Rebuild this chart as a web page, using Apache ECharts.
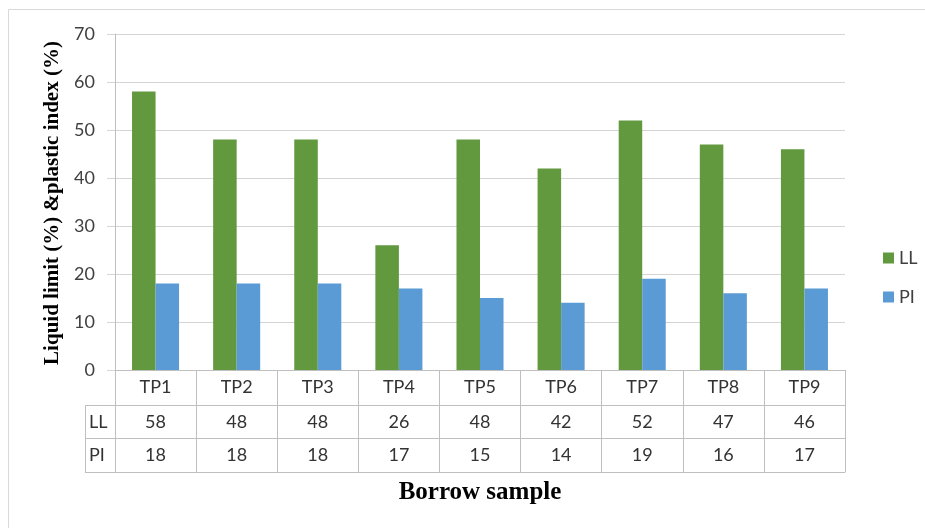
<!DOCTYPE html>
<html>
<head>
<meta charset="utf-8">
<script src="https://cdn.jsdelivr.net/npm/echarts@6/dist/echarts.min.js"></script>
<style>html,body{margin:0;padding:0;background:#fff;}#c{width:925px;height:528px;}</style>
</head>
<body>
<div id="c"></div>
<script>
const categories = ['TP1','TP2','TP3','TP4','TP5','TP6','TP7','TP8','TP9'];
const llValues = [58,48,48,26,48,42,52,47,46];
const piValues = [18,18,18,17,15,14,19,16,17];
const seriesNames = ['LL','PI'];
const yTicks = {min:0, max:70, interval:10};
const yTitle = 'Liquid limit (%) &plastic index (%)';
const xTitle = 'Borrow sample';

const GREEN = '#62993e', BLUE = '#5b9bd5', LINE = '#bfbfbf', GRID = '#d4d4d4';
const SANS = 'Lato, "Open Sans", sans-serif';
const SERIF = '"Liberation Serif", "DejaVu Serif", serif';

const chart = echarts.init(document.getElementById('c'));
const tableAxis = (offset, labels, showLabel) => ({
  type:'category', data:categories, gridIndex:0, position:'bottom', offset:offset,
  axisLine:{show:true, lineStyle:{color:LINE, width:1}},
  axisTick:{show:false},
  axisLabel:{show:showLabel, interval:0, margin:8, fontFamily:SANS, fontSize:18, color:'#333',
    formatter:(v, i) => labels ? String(labels[i]) : v},
  splitLine:{show:false}
});

const option = {
  animation:false,
  backgroundColor:'#fff',
  grid:{left:115, right:80, top:34, bottom:158, containLabel:false},
  legend:{orient:'vertical', left:878, top:244, itemWidth:11, itemHeight:11, itemGap:21,
    icon:'rect', textStyle:{fontFamily:SANS, fontSize:18, color:'#404040'}, data:seriesNames},
  xAxis:[
    Object.assign(tableAxis(0, null, true), {
      axisTick:{show:true, interval:0, length:102, lineStyle:{color:LINE}}
    }),
    tableAxis(35, llValues, true),
    tableAxis(68, piValues, true),
    tableAxis(102, null, false)
  ],
  yAxis:{type:'value', min:yTicks.min, max:yTicks.max, interval:yTicks.interval,
    axisLine:{show:true, lineStyle:{color:LINE}},
    axisTick:{show:true, length:8, lineStyle:{color:GRID}},
    axisLabel:{margin:20, fontFamily:SANS, fontSize:18, color:'#404040'},
    splitLine:{show:true, lineStyle:{color:GRID, width:1}}
  },
  series:[
    {name:seriesNames[0], type:'bar', xAxisIndex:0, data:llValues, itemStyle:{color:GREEN},
      barGap:'0%', barCategoryGap:'42%'},
    {name:seriesNames[1], type:'bar', xAxisIndex:0, data:piValues, itemStyle:{color:BLUE},
      barGap:'0%', barCategoryGap:'42%'}
  ],
  graphic:[
    {type:'rect', shape:{x:8.5, y:9.5, width:940, height:540}, style:{fill:null, stroke:'#d9d9d9', lineWidth:1}, silent:true, z:-1},
    {type:'line', shape:{x1:85, y1:405.5, x2:115, y2:405.5}, style:{stroke:LINE, lineWidth:1}},
    {type:'line', shape:{x1:85, y1:438.5, x2:115, y2:438.5}, style:{stroke:LINE, lineWidth:1}},
    {type:'line', shape:{x1:85, y1:472.5, x2:115, y2:472.5}, style:{stroke:LINE, lineWidth:1}},
    {type:'line', shape:{x1:85.5, y1:405, x2:85.5, y2:473}, style:{stroke:LINE, lineWidth:1}},
    {type:'text', x:89, y:422, style:{text:seriesNames[0], font:'18px ' + SANS, fill:'#333', textVerticalAlign:'middle'}},
    {type:'text', x:89, y:455, style:{text:seriesNames[1], font:'18px ' + SANS, fill:'#333', textVerticalAlign:'middle'}},
    {type:'text', x:53, y:203, rotation:Math.PI/2,
      style:{text:yTitle, font:'bold 21px ' + SERIF, fill:'#000', textAlign:'center', textVerticalAlign:'middle'}},
    {type:'text', x:480, y:493,
      style:{text:xTitle, font:'bold 25px ' + SERIF, fill:'#000', textAlign:'center', textVerticalAlign:'middle'}}
  ]
};
chart.setOption(option);
</script>
</body>
</html>
